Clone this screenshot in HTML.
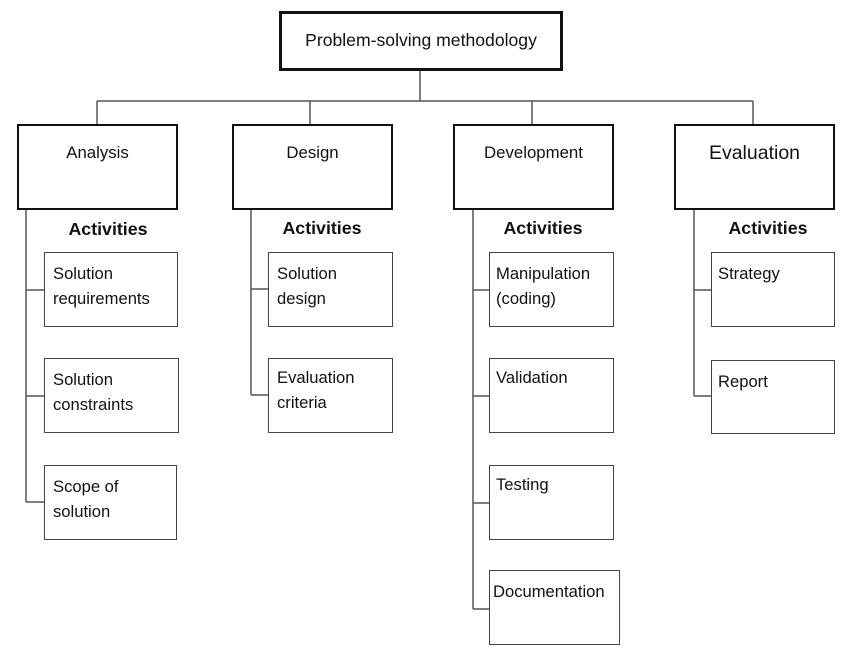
<!DOCTYPE html>
<html><head><meta charset="utf-8"><style>
body{margin:0;background:#fff;width:850px;height:656px;position:relative;overflow:hidden;font-family:"Liberation Sans",sans-serif;color:#111}
.b{position:absolute;box-sizing:border-box;background:#fff}
.h{border:2px solid #111;text-align:center;font-size:16.8px;padding-top:17px}
.s{border:1.5px solid #444;font-size:16.6px;line-height:25px;padding:8px 0 0 8px;white-space:nowrap}
.a{position:absolute;font-weight:bold;font-size:17.8px;transform:translateX(-50%)}
svg{position:absolute;left:0;top:0}
</style></head><body>
<svg width="850" height="656">
<g stroke="#555" stroke-width="1.5" fill="none">
<path d="M420 70V101M97 101H753M97 101V124M310 101V124M532 101V124M753 101V124"/>
<path d="M26 209V502M26 290H44M26 396H44M26 502H44"/>
<path d="M251 209V395M251 289H268M251 395H268"/>
<path d="M473 209V609M473 290H489M473 396H489M473 503H489M473 609H489"/>
<path d="M694 209V396M694 290H711M694 396H711"/>
</g></svg>
<div class="b" style="left:279px;top:11px;width:284px;height:60px;border:3.5px solid #111;font-size:17.6px;text-align:center;padding-top:16px">Problem-solving methodology</div>
<div class="b h" style="left:17px;top:124px;width:161px;height:86px">Analysis</div>
<div class="b h" style="left:232px;top:124px;width:161px;height:86px">Design</div>
<div class="b h" style="left:453px;top:124px;width:161px;height:86px">Development</div>
<div class="b h" style="left:674px;top:124px;width:161px;height:86px;font-size:19.5px;padding-top:16px">Evaluation</div>
<div class="a" style="left:108px;top:219px">Activities</div>
<div class="a" style="left:322px;top:218px">Activities</div>
<div class="a" style="left:543px;top:218px">Activities</div>
<div class="a" style="left:768px;top:218px">Activities</div>
<div class="b s" style="left:44px;top:252px;width:134px;height:75px">Solution<br>requirements</div>
<div class="b s" style="left:44px;top:358px;width:135px;height:75px">Solution<br>constraints</div>
<div class="b s" style="left:44px;top:465px;width:133px;height:75px">Scope of<br>solution</div>
<div class="b s" style="left:268px;top:252px;width:125px;height:75px">Solution<br>design</div>
<div class="b s" style="left:268px;top:358px;width:125px;height:75px;padding-top:6px">Evaluation<br>criteria</div>
<div class="b s" style="left:489px;top:252px;width:125px;height:75px;padding-left:6px">Manipulation<br>(coding)</div>
<div class="b s" style="left:489px;top:358px;width:125px;height:75px;padding-left:6px;padding-top:6px">Validation</div>
<div class="b s" style="left:489px;top:465px;width:125px;height:75px;padding-left:6px;padding-top:6px">Testing</div>
<div class="b s" style="left:489px;top:570px;width:131px;height:75px;padding-left:3px;padding-top:8px">Documentation</div>
<div class="b s" style="left:711px;top:252px;width:124px;height:75px;padding-left:6px">Strategy</div>
<div class="b s" style="left:711px;top:360px;width:124px;height:74px;padding-left:6px;padding-top:8px">Report</div>
</body></html>
